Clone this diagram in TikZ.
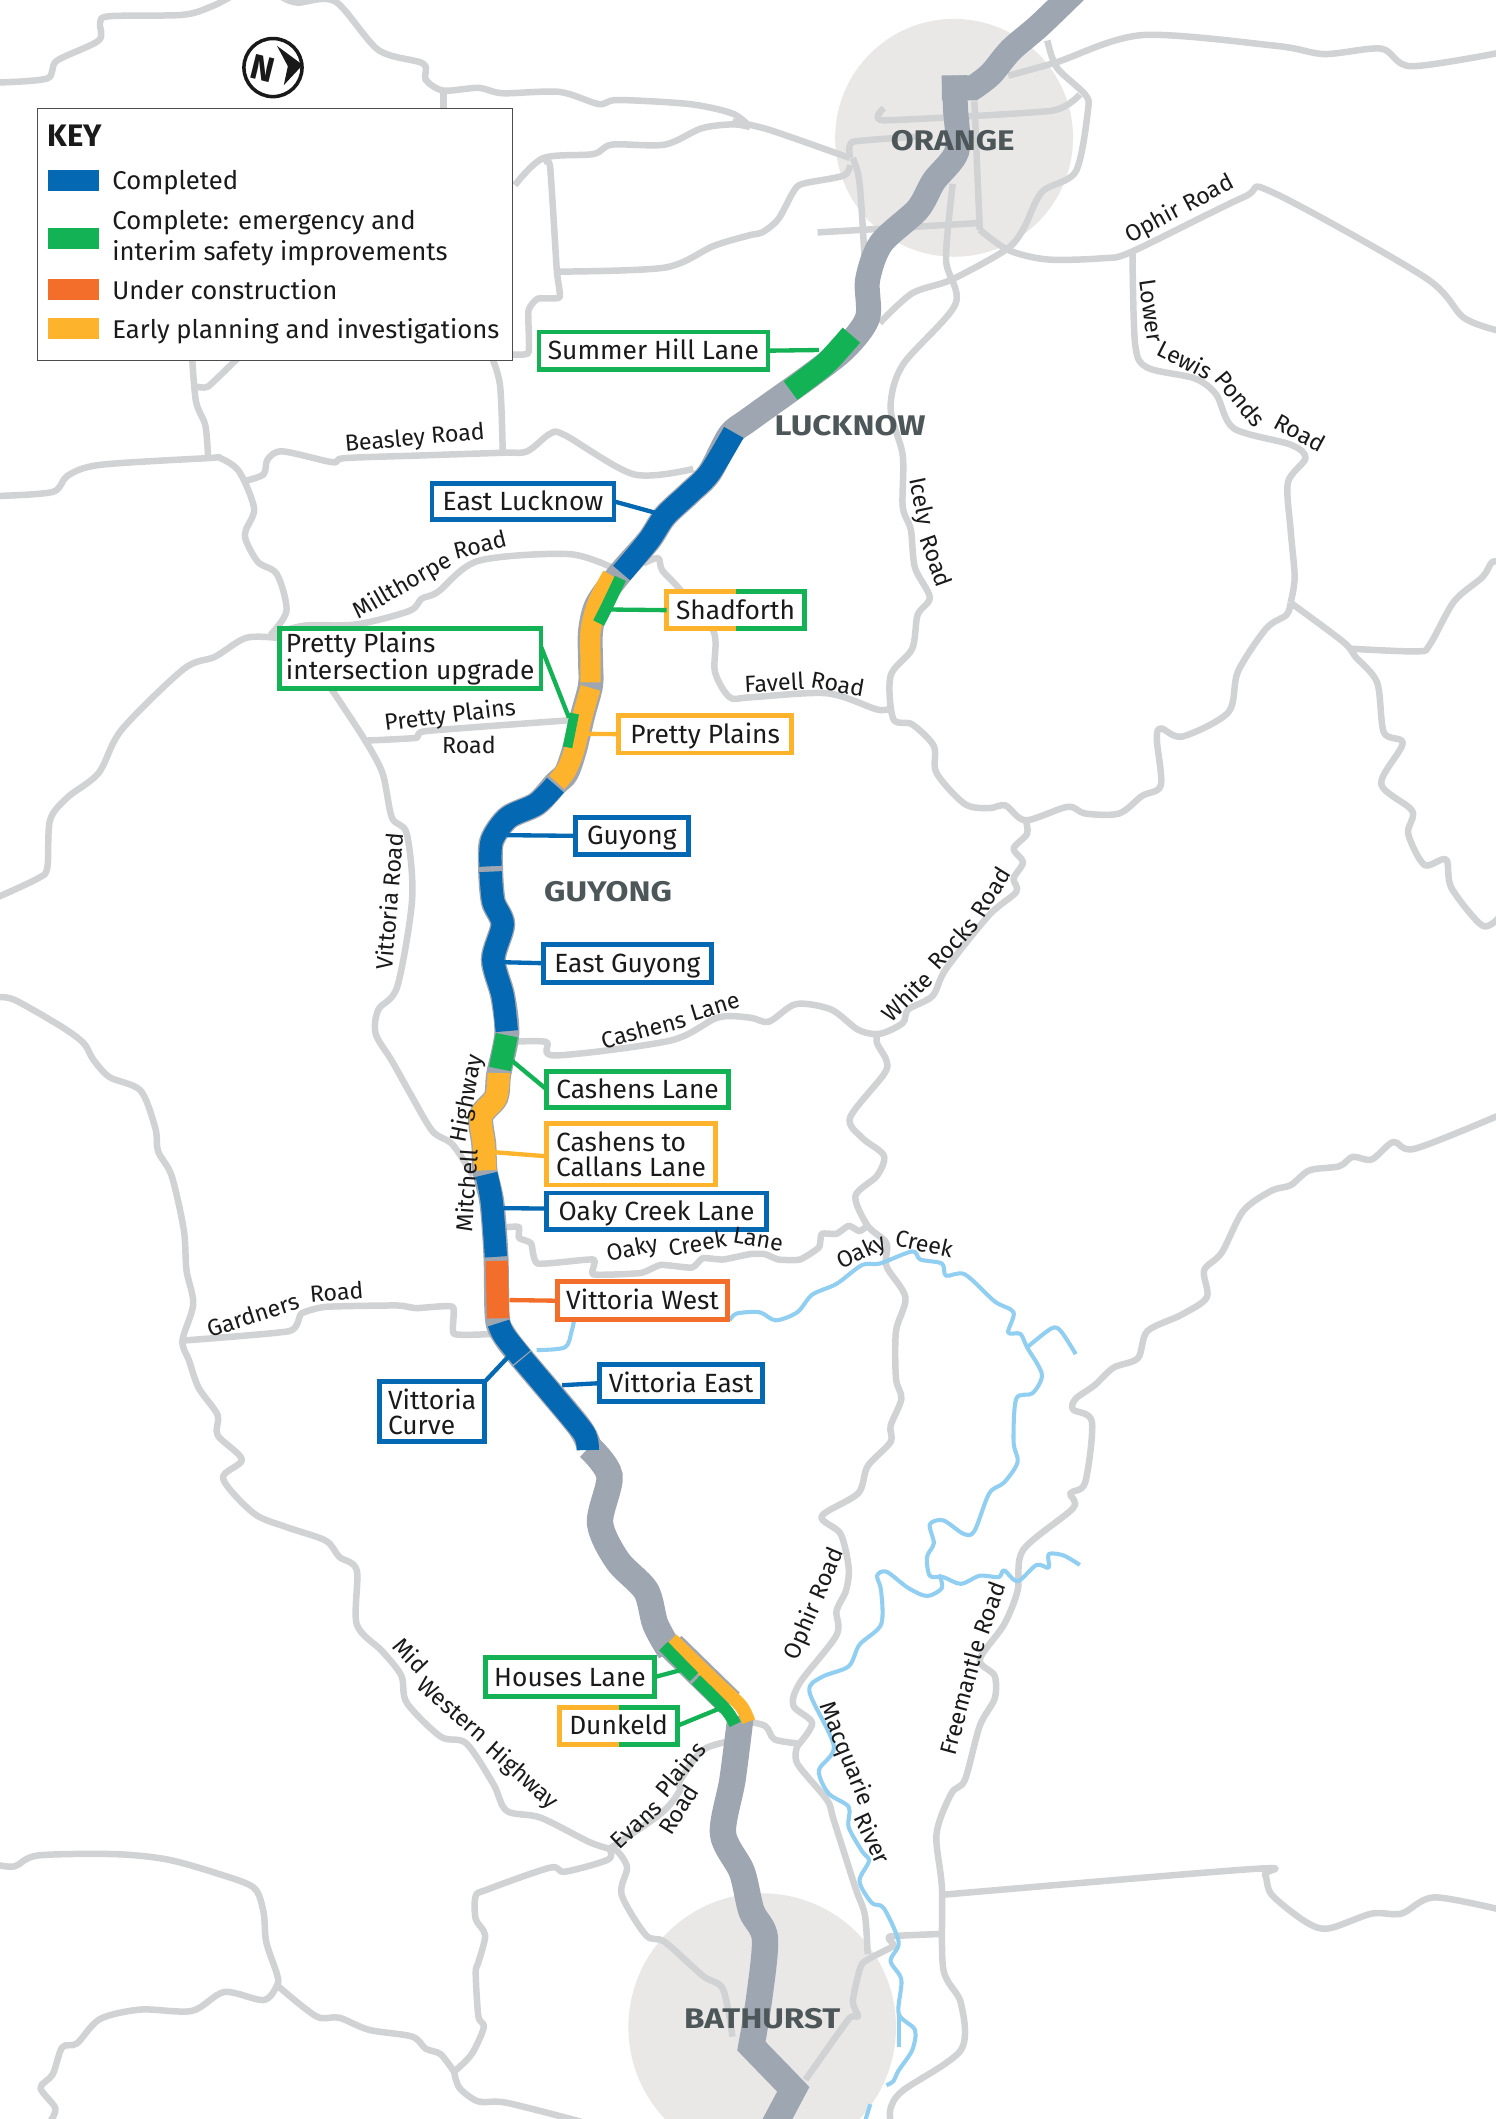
\documentclass[tikz,border=0pt]{standalone}
\usepackage{fontspec}
\setmainfont{Fira Sans}
\newfontfamily\townface[FakeStretch=1.17]{Fira Sans}

\definecolor{roadgrey}{HTML}{D1D2D4}
\definecolor{highwaygrey}{HTML}{9EA6B2}
\definecolor{towngrey}{HTML}{E9E8E7}
\definecolor{rivercol}{HTML}{90CEF2}
\definecolor{keyblue}{HTML}{0568B3}
\definecolor{keygreen}{HTML}{13B255}
\definecolor{keyorange}{HTML}{F36E2A}
\definecolor{keyyellow}{HTML}{FDB32B}
\definecolor{towntext}{HTML}{4D5759}
\definecolor{inktext}{HTML}{1A1A1A}

\newcommand{\boxfont}{\fontsize{19.5}{18.4}\selectfont}
\newcommand{\keyfont}{\fontsize{19}{23}\selectfont}
\newcommand{\townfont}{\townface\fontsize{21}{21}\selectfont\bfseries}
\newcommand{\roadfont}{\fontsize{17.2}{17.2}\selectfont}

\tikzset{
	road/.style={draw=roadgrey, line width=4.8pt, line join=round},
	river/.style={draw=rivercol, line width=3pt, line join=round},
	highway/.style={draw=highwaygrey, line width=18.5pt, line join=miter},
	stage/.style={line width=16.5pt},
	halfstage/.style={line width=9pt},
	labelbox/.style={draw=#1, fill=white, line width=3.5pt, text=inktext, font=\boxfont, inner sep=0pt, outer sep=0pt, align=left},
	onebox/.style={labelbox=#1, text height=18pt, text depth=4.5pt},
	leader/.style={draw=#1, line width=3.2pt},
	swatch/.style={minimum width=37.6pt, minimum height=15.5pt, inner sep=0pt},
	keytext/.style={anchor=base west, inner sep=0pt, text=inktext, font=\keyfont, align=left},
	townlabel/.style={text=towntext, font=\townfont, inner sep=0pt},
	roadlabel/.style={text=inktext, font=\roadfont, inner sep=0pt}
}

\begin{document}
\begin{tikzpicture}[x=1pt,y=-1pt]
	\useasboundingbox (0,0) rectangle (1107,1568);
	\fill[white] (0,0) rectangle (1107,1568);

	\fill[towngrey] (706,102) circle (88);
	\fill[towngrey] (564,1500) circle (99);

	% roads north
	\draw[road] plot [smooth, tension=0.5] coordinates{(0,61) (35,58) (42,45) (73,30) (74,17) (81,12) (135,11) (156,5) (170,-2)};
	\draw[road] plot [smooth, tension=0.5] coordinates{(209,-2) (220,2) (248,1) (280,37) (313,47) (315,59) (328,67) (354,65) (372,69) (414,68) (443,77) (457,74) (510,77) (542,84) (555,94)};
	\draw[road] plot [smooth, tension=0.5] coordinates{(542,90) (569,96) (629,117)};
	\draw[road] plot [smooth, tension=0.5] coordinates{(555,94) (542,92) (519,95) (492,107) (453,107) (439,114) (402,117) (381,137)};
	\draw[road] (328,67) -- (328,84);
	\draw[road] plot [smooth, tension=0.3] coordinates{(402,120) (407,123) (412,200) (414,220) (398,221) (391,230) (391,261) (376,262)};
	\draw[road] plot [smooth, tension=0.5] coordinates{(414,201) (492,198) (528,182) (555,174) (564,172) (576,162) (587,142) (594,136) (624,130) (629,122)};
	\draw[road] plot [smooth, tension=0.5] coordinates{(142,262) (145,297) (152,315) (154,339)};
	\draw[road] plot [smooth, tension=0.3] coordinates{(145,286) (154,286) (177,264)};
	\draw[road] plot [smooth, tension=0.5] coordinates{(363,262) (370,285) (372,335)};
	\draw[road] plot [smooth, tension=0.5] coordinates{(-2,367) (39,364) (50,352) (74,344) (154,339) (163,339) (177,349) (188,376) (182,392) (182,400) (191,416) (205,425) (212,452) (200,470)};
	\draw[road] plot [smooth, tension=0.5] coordinates{(181,356) (195,351) (198,340) (209,334) (246,342) (255,339) (312,337) (372,335) (390,334) (407,321) (418,322) (469,351) (513,347)};
	\draw[road] plot [smooth, tension=0.5] coordinates{(205,472) (182,472) (159,486) (136,495) (90,540) (73,572) (50,590) (37,607) (35,642) (28,650) (-2,664)};
	\draw[road] plot [smooth, tension=0.5] coordinates{(200,470) (225,463) (264,462) (303,452) (312,443) (324,438) (354,415) (421,410) (455,421)};
	\draw[road] plot [smooth, tension=0.5] coordinates{(476,417) (487,413) (490,422) (503,436) (528,467) (529,497) (540,516) (555,516) (612,513) (649,525) (659,524)};
	\draw[road] plot [smooth, tension=0.5] coordinates{(244,508) (269,546) (283,572) (290,605) (301,617) (305,665) (294,730) (280,747) (278,765) (290,785) (304,810) (320,837) (335,847) (350,870)};
	\draw[road] plot [smooth, tension=0.3] coordinates{(271,548) (308,546) (315,541) (421,533)};

	% Orange area
	\draw[road] plot [smooth, tension=0.5] coordinates{(705,136) (700,192) (707,225) (668,270) (659,302) (668,337) (668,375) (674,392) (677,420) (688,442) (679,455) (675,480) (659,500) (661,532) (675,536) (691,552) (693,572) (714,595) (732,598) (744,596) (759,607) (790,597) (803,602) (828,602) (845,589) (859,581) (856,547) (859,539) (875,545) (909,527) (916,497) (937,465) (952,455) (955,446)};
	\draw[road] plot [smooth, tension=0.5] coordinates{(955,446) (958,427) (955,392) (953,357) (966,339) (955,329) (913,317) (900,292) (884,280) (849,272) (840,255) (838,187)};
	\draw[road] plot [smooth, tension=0.5] coordinates{(725,170) (746,185) (775,192) (817,191) (838,186) (920,146) (941,142) (1054,205) (1083,235) (1110,245)};
	\draw[road] plot [smooth, tension=0.5] coordinates{(746,56) (782,46) (845,26) (945,34) (980,40) (1022,36) (1044,49) (1110,39)};
	\draw[road] plot [smooth, tension=0.5] coordinates{(775,30) (782,50) (803,70) (805,82) (796,127) (771,142) (757,170) (744,185) (704,207) (675,217) (651,239)};
	\draw[road] plot [smooth, tension=0.3] coordinates{(799,70) (778,82) (654,89) (654,80)};
	\draw[road] (721,75) -- (725,170);
	\draw[road] plot [smooth, tension=0.3] coordinates{(629,117) (631,105) (680,101)};
	\draw[road] plot [smooth, tension=0.5] coordinates{(631,117) (636,135) (640,195)};
	\draw[road] (605,172) -- (725,165);

	% roads east
	\draw[road] plot [smooth, tension=0.5] coordinates{(955,446) (994,475) (1003,486) (1019,505) (1024,542) (1038,550) (1022,580) (1045,600) (1042,617) (1054,640) (1070,636) (1074,657) (1097,685) (1110,678)};
	\draw[road] plot [smooth, tension=0.5] coordinates{(999,480) (1049,482) (1058,477) (1076,445) (1097,427) (1104,416) (1110,416)};
	\draw[road] plot [smooth, tension=0.5] coordinates{(759,607) (760,617) (750,628) (757,638) (750,650) (752,660) (732,677) (700,717) (690,737) (672,747) (668,757) (651,765) (635,762) (615,747) (589,743) (569,756) (555,753) (531,753) (496,770) (411,781) (404,771) (378,771)};
	\draw[road] plot [smooth, tension=0.5] coordinates{(649,765) (649,772) (656,785) (654,795) (629,827) (638,842) (654,855) (649,870) (633,885) (642,907) (656,920) (656,937) (670,960) (663,985) (663,1020) (667,1035) (659,1055) (659,1067) (642,1085) (635,1105) (608,1122) (622,1135) (628,1160) (626,1177) (619,1192) (619,1210) (592,1245) (587,1262) (601,1275) (590,1292)};
	\draw[road] plot [smooth, tension=0.3] coordinates{(375,908) (384,908) (384,916) (393,920) (398,935) (439,932) (439,943) (474,942) (489,936) (512,938) (520,931) (535,932) (555,928) (566,928) (576,932) (592,932) (606,923) (608,913) (619,913) (628,907) (636,911) (642,907)};
	\draw[road] plot [smooth, tension=0.3] coordinates{(135,992) (214,985) (223,972) (241,967) (294,966) (308,968) (335,967) (336,987) (365,987)};

	% roads west and south
	\draw[road] plot [smooth, tension=0.5] coordinates{(-2,738) (11,740) (46,760) (62,772) (69,784) (81,797) (104,807) (115,835) (117,852) (127,870) (136,910) (138,940) (143,965) (135,992) (140,1007) (147,1027) (161,1047) (161,1062) (179,1080) (165,1094) (188,1120) (212,1130) (241,1140) (251,1152) (264,1162) (264,1202) (283,1222) (297,1240) (301,1260) (326,1285) (345,1290) (365,1320) (375,1340) (400,1345) (436,1363) (451,1368)};
	\draw[road] plot [smooth, tension=0.5] coordinates{(451,1368) (450,1376) (418,1385) (407,1382) (361,1398) (352,1403) (352,1420) (359,1432) (354,1452) (352,1460) (354,1492) (358,1500) (349,1520) (336,1533)};
	\draw[road] plot [smooth, tension=0.5] coordinates{(336,1533) (340,1545) (354,1555) (375,1556) (430,1570)};
	\draw[road] plot [smooth, tension=0.5] coordinates{(-2,1380) (11,1381) (28,1373) (85,1372) (124,1376) (163,1387) (188,1397) (195,1415) (197,1437) (205,1461) (205,1469) (195,1480) (166,1474) (142,1488) (104,1487) (74,1494) (57,1512) (46,1515) (39,1535) (30,1545) (41,1560) (37,1570)};
	\draw[road] plot [smooth, tension=0.5] coordinates{(205,1469) (234,1492) (251,1493) (273,1502) (305,1507) (315,1516) (326,1520) (336,1533)};
	\draw[road] plot [smooth, tension=0.5] coordinates{(451,1368) (457,1370) (464,1382) (460,1402) (478,1432) (492,1437) (520,1462) (535,1472) (542,1507)};
	\draw[road] plot [smooth, tension=0.5] coordinates{(451,1368) (489,1342) (503,1325) (503,1318) (520,1295) (542,1288)};
	\draw[road] plot [smooth, tension=0.5] coordinates{(590,1292) (590,1305) (612,1332) (617,1347) (633,1397) (640,1417) (642,1446)};
	\draw[road] plot [smooth, tension=0.5] coordinates{(548,1273) (566,1277) (573,1287) (590,1290)};
	\draw[road] plot [smooth, tension=0.3] coordinates{(698,1431) (658,1433) (661,1440) (638,1453) (631,1481) (635,1492) (628,1494) (596,1539)};
	\draw[road] plot [smooth, tension=0.5] coordinates{(1110,825) (1047,850) (1031,845) (1015,858) (1001,856) (991,863) (969,866) (955,877) (941,881) (920,896) (904,927) (891,940) (893,960) (874,973) (849,985) (842,1005) (824,1012) (810,1025) (796,1035) (794,1043) (808,1052) (803,1097) (792,1105) (794,1116) (757,1147) (753,1177) (743,1202) (725,1228) (736,1240) (736,1257) (725,1277) (714,1317) (704,1327) (693,1357) (697,1397) (698,1457) (711,1482) (711,1517) (668,1547) (659,1560) (659,1570)};
	\draw[road] plot [smooth, tension=0.5] coordinates{(698,1402) (927,1383) (936,1387) (941,1402) (966,1422) (983,1427) (1015,1416) (1037,1416) (1061,1404) (1110,1413)};

	% rivers
	\draw[river] plot [smooth, tension=0.5] coordinates{(397,999) (418,997) (423,985) (425,976)};
	\draw[river] plot [smooth, tension=0.5] coordinates{(540,977) (545,972) (562,971) (574,977) (590,971) (601,958) (619,950) (638,936) (651,935) (675,926) (681,932) (697,935) (700,944) (714,943) (736,963) (750,971) (746,986) (755,987) (760,997) (771,1017) (764,1031) (752,1035) (750,1067) (753,1082) (743,1097) (732,1105) (721,1133) (713,1135) (698,1125) (688,1128) (691,1142) (686,1152) (688,1166) (698,1167) (711,1172) (725,1166) (739,1167) (743,1162) (753,1170) (767,1158) (776,1160) (776,1150) (787,1151) (799,1158)};
	\draw[river] plot [smooth, tension=0.5] coordinates{(760,997) (778,983) (785,985) (796,1002)};
	\draw[river] plot [smooth, tension=0.5] coordinates{(695,1165) (697,1175) (686,1181) (672,1175) (656,1163) (649,1166) (652,1177) (652,1202) (636,1217) (628,1233) (608,1241) (599,1252) (617,1292) (606,1310) (613,1327) (628,1337) (628,1352) (638,1370) (643,1377) (636,1392) (645,1408) (654,1412) (665,1437) (659,1451) (667,1465) (665,1490) (677,1502) (675,1517) (665,1532) (661,1540) (656,1543)};
	\draw[river] (665,1490) -- (665,1515);
	\draw[river] (644,1557) -- (640,1570);

	% highway base
	\draw[highway] plot [smooth, tension=0.5] coordinates{(797,-8) (769,19) (748,37) (733,55) (720,65)} -- (697,65);
	\draw[highway] plot [smooth, tension=0.5] coordinates{(706,56) (707,80) (708,112) (691,134) (679,155) (652,180) (642,207) (642,235) (626,257) (601,277) (555,310) (540,322) (525,350) (510,365) (492,382) (480,400) (459,424) (442,447) (437,467) (437,490) (437,507) (431,530) (425,555) (419,572) (411,580) (397,595) (376,605) (364,622) (363,642) (365,667) (372,684) (365,710) (372,737) (375,765) (369,795) (367,812) (356,826) (358,847) (359,867) (364,890) (367,930) (368,975) (373,988) (386,1005) (428,1055) (436,1071)};
	\draw[highway, line width=19.5pt] plot [smooth, tension=0.5] coordinates{(436,1071) (451,1092) (444,1127) (457,1155) (478,1177) (485,1202) (496,1222)};
	\draw[highway, line width=21pt] (497,1218) -- (540,1260);
	\draw[highway, line width=19.5pt] plot [smooth, tension=0.5] coordinates{(548,1270) (542,1317) (535,1357) (549,1385) (556,1414) (566,1434) (562,1477) (556,1514)} -- (587,1546) -- (570,1578);

	% project stages
	\draw[stage, keygreen, line width=17pt] plot [smooth, tension=0.5] coordinates{(630,248) (612,268) (597,280) (585,289)};
	\draw[stage, keyblue] plot [smooth, tension=0.5] coordinates{(543,320) (525,350) (510,365) (492,382) (480,400) (460,424)};
	\draw[stage, keyyellow, line width=15pt] plot [smooth, tension=0.5] coordinates{(453,426) (442,447) (437,467) (437,490) (437,505)};
	\draw[halfstage, keygreen] plot [smooth, tension=0.5] coordinates{(459,428) (450,447) (443,461)};
	\draw[stage, keyyellow, line width=15pt] plot [smooth, tension=0.5] coordinates{(437,509) (431,530) (425,555) (419,570) (412,579)};
	\draw[halfstage, keygreen, line width=7pt] (425,528) -- (420,553);
	\draw[stage, keyblue] plot [smooth, tension=0.5] coordinates{(411,581) (397,595) (376,605) (364,622) (363,641)};
	\draw[stage, keyblue] plot [smooth, tension=0.5] coordinates{(363,645) (365,667) (372,684) (365,710) (372,737) (375,763)};
	\draw[stage, keygreen] (375,766) -- (370,791);
	\draw[stage, keyyellow] plot [smooth, tension=0.5] coordinates{(369,794) (367,812) (356,826) (358,847) (359,866)};
	\draw[stage, keyblue] plot [smooth, tension=0.5] coordinates{(360,869) (364,890) (367,930)};
	\draw[stage, keyorange] (367.5,933) -- (368.5,975.5);
	\draw[stage, keyblue] plot [smooth, tension=0.5] coordinates{(369,979) (373,988) (386,1004.5)};
	\draw[stage, keyblue] plot [smooth, tension=0.5] coordinates{(386.5,1005.5) (428,1055) (434,1065) (435,1073)};
	\draw[halfstage, keyyellow, line width=10pt] plot [smooth, tension=0.5] coordinates{(497,1213) (530,1245) (548,1262) (554,1274)};
	\draw[halfstage, keygreen] (491,1218) -- (513.5,1241);
	\draw[halfstage, keygreen] plot [smooth, tension=0.5] coordinates{(515,1243) (537,1265) (544,1276)};

	% towns
	\node[townlabel] (orangeLabel) at (705,104) {ORANGE};
	\node[townlabel] (lucknowLabel) at (629,315) {LUCKNOW};
	\node[townlabel] (guyongLabel) at (450,660) {GUYONG};
	\node[townlabel] (bathurstLabel) at (564,1494) {BATHURST};

	% key
	\node[draw=black!70, fill=white, line width=0.8pt, minimum width=352pt, minimum height=186.5pt, inner sep=0pt] (keyBox) at (203.5,173.2) {};
	\node[keytext, font=\fontsize{23}{23}\selectfont\bfseries] (keyTitle) at (35,108.5) {KEY};
	\node[swatch, fill=keyblue] (completedSwatch) at (54.2,133.5) {};
	\node[swatch, fill=keygreen] (emergencySwatch) at (54.2,176.2) {};
	\node[swatch, fill=keyorange] (constructionSwatch) at (54.2,214) {};
	\node[swatch, fill=keyyellow] (planningSwatch) at (54.2,243) {};
	\node[keytext] (completedText) at (83,140.5) {Completed};
	\node[keytext, anchor=west] (emergencyText) at (83,176) {Complete: emergency and\\interim safety improvements};
	\node[keytext] (constructionText) at (83,221.5) {Under construction};
	\node[keytext] (planningText) at (83,250.5) {Early planning and investigations};

	% north arrow
	\draw[draw=black!90, line width=2.6pt] (202,50) circle (21.5);
	\node[inner sep=0pt, rotate=-14, font=\fontsize{26}{26}\selectfont\bfseries, text=black!90] (northLabel) at (194.5,51) {N};
	\fill[black!90] (205,34) -- (224,48) -- (210,63) -- (213,49) -- cycle;

	% project labels
	\node[onebox=keygreen, minimum width=169.5pt, minimum height=27.5pt] (summerBox) at (483.5,259.5) {Summer Hill Lane};
	\node[onebox=keyblue, minimum width=134.5pt, minimum height=26.5pt] (eastLucknowBox) at (387,371) {East Lucknow};
	\node[labelbox=keygreen, minimum width=193.5pt, minimum height=44pt] (plainsUpgradeBox) at (303.5,487.25) {Pretty Plains\\intersection upgrade};
	\node[onebox=keyyellow, minimum width=102pt, minimum height=27.5pt] (shadforthBox) at (544.25,451.5) {Shadforth};
	\node[onebox=keyyellow, minimum width=128pt, minimum height=28pt] (prettyBox) at (521.8,543.25) {Pretty Plains};
	\node[onebox=keyblue, minimum width=83.5pt, minimum height=27.5pt] (guyongBox) at (467.5,618.5) {Guyong};
	\node[onebox=keyblue, minimum width=124pt, minimum height=28pt] (eastGuyongBox) at (464.25,712.75) {East Guyong};
	\node[onebox=keygreen, minimum width=135pt, minimum height=26.5pt] (cashensBox) at (471.8,806) {Cashens Lane};
	\node[labelbox=keyyellow, minimum width=125.4pt, minimum height=45.5pt] (callansBox) at (467,854.1) {Cashens to\\Callans Lane};
	\node[onebox=keyblue, minimum width=163pt, minimum height=27pt] (oakyBox) at (485.8,896.3) {Oaky Creek Lane};
	\node[onebox=keyorange, minimum width=125.5pt, minimum height=28.3pt] (westBox) at (475.5,962.5) {Vittoria West};
	\node[onebox=keyblue, minimum width=120.5pt, minimum height=27.5pt] (eastBox) at (504,1023.5) {Vittoria East};
	\node[labelbox=keyblue, minimum width=78pt, minimum height=44.5pt] (curveBox) at (319.75,1044.6) {Vittoria\\Curve};
	\node[onebox=keygreen, minimum width=125pt, minimum height=28.5pt] (housesBox) at (421.8,1241) {Houses Lane};
	\node[onebox=keyyellow, minimum width=87pt, minimum height=27.5pt] (dunkeldBox) at (457.75,1277) {Dunkeld};

	\draw[keygreen, line width=3.5pt] (shadforthBox.north) -- (shadforthBox.north east) -- (shadforthBox.south east) -- (shadforthBox.south);
	\draw[keygreen, line width=3.5pt] (dunkeldBox.north) -- (dunkeldBox.north east) -- (dunkeldBox.south east) -- (dunkeldBox.south);

	% leaders
	\coordinate (summerEnd) at (606,259);
	\coordinate (eastLucknowEnd) at (487,380);
	\coordinate (shadforthEnd) at (450,451);
	\coordinate (plainsUpgradeEnd) at (421,531);
	\coordinate (prettyEnd) at (434,543);
	\coordinate (guyongEnd) at (375,618);
	\coordinate (eastGuyongEnd) at (372,712);
	\coordinate (cashensEnd) at (379,785);
	\coordinate (callansEnd) at (366,852.6);
	\coordinate (oakyEnd) at (372.5,894);
	\coordinate (westEnd) at (377,962);
	\coordinate (eastEnd) at (416,1025);
	\coordinate (curveEnd) at (377,1003);
	\coordinate (housesEnd) at (503,1236);
	\coordinate (dunkeldEnd) at (533,1264);

	\draw[leader=keygreen] (summerBox.east) -- (summerEnd);
	\draw[leader=keyblue] (eastLucknowBox.east) -- (eastLucknowEnd);
	\draw[leader=keygreen] (shadforthBox.west) -- (shadforthEnd);
	\draw[leader=keygreen] ([yshift=9pt]plainsUpgradeBox.east) -- (plainsUpgradeEnd);
	\draw[leader=keyyellow] (prettyBox.west) -- (prettyEnd);
	\draw[leader=keyblue] (guyongBox.west) -- (guyongEnd);
	\draw[leader=keyblue] (eastGuyongBox.west) -- (eastGuyongEnd);
	\draw[leader=keygreen] (cashensBox.west) -- (cashensEnd);
	\draw[leader=keyyellow] ([yshift=-1.5pt]callansBox.west) -- (callansEnd);
	\draw[leader=keyblue] ([yshift=2pt]oakyBox.west) -- (oakyEnd);
	\draw[leader=keyorange] (westBox.west) -- (westEnd);
	\draw[leader=keyblue] (eastBox.west) -- (eastEnd);
	\draw[leader=keyblue] (curveBox.north east) -- (curveEnd);
	\draw[leader=keygreen] (housesBox.east) -- (housesEnd);
	\draw[leader=keygreen] (dunkeldBox.east) -- (dunkeldEnd);

	% road names
	\node[roadlabel, rotate=5] (beasleyLabel) at (307,325) {Beasley Road};
	\node[roadlabel, rotate=7] (prettyRoadLabel) at (333,530) {Pretty Plains};
	\node[roadlabel] (prettyRoadLabelb) at (347,551) {Road};
	\node[roadlabel, rotate=28] (ophirLabel) at (873,155) {Ophir Road};
	\node[roadlabel, rotate=85] (vittoriaLabel) at (288,667) {Vittoria Road};
	\node[roadlabel, rotate=58] (evansLabelb) at (502,1339) {Road};
	\node[roadlabel, rotate=67] (ophirLabelb) at (603,1187) {Ophir Road};
	\node[roadlabel, rotate=30] (millthorpeLabel) at (298,434) {Millthorpe};
	\node[roadlabel, rotate=14] (millthorpeLabelb) at (355,403) {Road};
	\node[roadlabel, rotate=3] (favellLabel) at (573,505) {Favell};
	\node[roadlabel, rotate=-10] (favellLabelb) at (620,506) {Road};
	\node[roadlabel, rotate=-78] (icelyLabel) at (681,371) {Icely};
	\node[roadlabel, rotate=-70] (icelyLabelb) at (693,415) {Road};
	\node[roadlabel, rotate=-82] (lewisLabel) at (852,230) {Lower};
	\node[roadlabel, rotate=-27] (lewisLabelb) at (877,266) {Lewis};
	\node[roadlabel, rotate=-50] (lewisLabelc) at (918,295) {Ponds};
	\node[roadlabel, rotate=-28] (lewisLabeld) at (962,320) {Road};
	\node[roadlabel, rotate=45] (whiteLabel) at (671,737) {White};
	\node[roadlabel, rotate=48] (whiteLabelb) at (705,698) {Rocks};
	\node[roadlabel, rotate=58] (whiteLabelc) at (733,660) {Road};
	\node[roadlabel, rotate=86] (mitchellLabel) at (345,881) {Mitchell};
	\node[roadlabel, rotate=79] (mitchellLabelb) at (346,813) {Highway};
	\node[roadlabel, rotate=15] (cashensLabel) at (476,762) {Cashens};
	\node[roadlabel, rotate=17] (cashensLabelb) at (529,745) {Lane};
	\node[roadlabel, rotate=12] (oakyLaneLabel) at (468,925) {Oaky};
	\node[roadlabel, rotate=10] (oakyLaneLabelb) at (516,920) {Creek};
	\node[roadlabel, rotate=-10] (oakyLaneLabelc) at (561,917) {Lane};
	\node[roadlabel, rotate=25] (oakyLabel) at (638,927) {Oaky};
	\node[roadlabel, rotate=-12] (oakyLabelb) at (684,920) {Creek};
	\node[roadlabel, rotate=18] (gardnersLabel) at (187,973) {Gardners};
	\node[roadlabel, rotate=5] (gardnersLabelb) at (249,956) {Road};
	\node[roadlabel, rotate=-46] (midLabel) at (304,1225) {Mid};
	\node[roadlabel, rotate=-41] (midLabelb) at (335,1265) {Western};
	\node[roadlabel, rotate=-42] (midLabelc) at (386,1314) {Highway};
	\node[roadlabel, rotate=43] (evansLabel) at (471,1350) {Evans};
	\node[roadlabel, rotate=50] (evansLabelc) at (503,1309) {Plains};
	\node[roadlabel, rotate=75] (freemantleLabel) at (712,1256) {Freemantle};
	\node[roadlabel, rotate=70] (freemantleLabelb) at (732,1190) {Road};
	\node[roadlabel, rotate=-68] (macquarieLabel) at (626,1298) {Macquarie};
	\node[roadlabel, rotate=-65] (macquarieLabelb) at (646,1360) {River};
\end{tikzpicture}
\end{document}
